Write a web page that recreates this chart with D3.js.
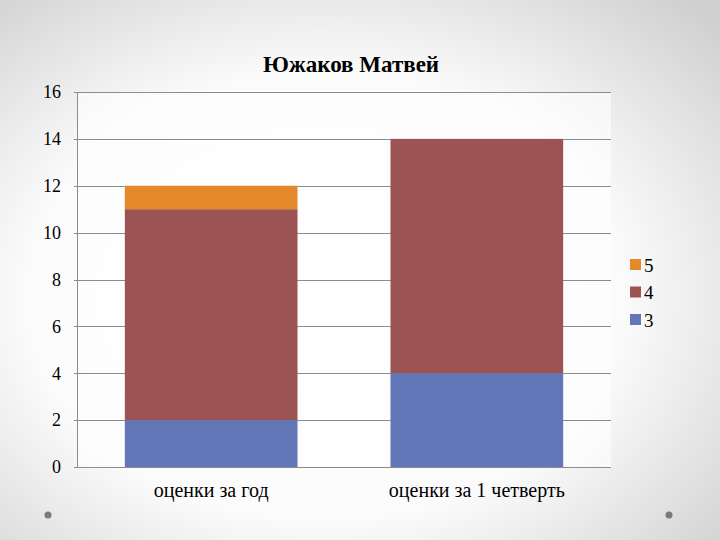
<!DOCTYPE html>
<html>
<head>
<meta charset="utf-8">
<script src="https://cdn.jsdelivr.net/npm/d3@7"></script>
</head>
<body style="margin:0">
<script>
var w = 720;
var h = 540;
var fontName = "'Liberation Serif', serif";

const chartTitle = "Южаков Матвей";
const categories = ["оценки за год", "оценки за 1 четверть"];
const seriesNames = ["3", "4", "5"];
const grade3 = [2, 4];
const grade4 = [9, 10];
const grade5 = [1, 0];
const seriesColors = ["#6277b7", "#9b5353", "#e5892a"];
const yTicks = [0, 2, 4, 6, 8, 10, 12, 14, 16];

var plot = {left: 77, right: 611, top: 92, bottom: 467};

var svg = d3.select("body").append("svg")
    .attr("width", w)
    .attr("height", h)
    .style("display", "block");

// slide background
var defs = svg.append("defs");
var grad = defs.append("radialGradient")
    .attr("id", "bg")
    .attr("cx", "45%").attr("cy", "55%").attr("r", "75%");
grad.append("stop").attr("offset", "0%").attr("stop-color", "#ffffff");
grad.append("stop").attr("offset", "55%").attr("stop-color", "#fbfbfb");
grad.append("stop").attr("offset", "100%").attr("stop-color", "#cfcfcf");

svg.append("rect")
    .attr("width", w).attr("height", h)
    .attr("fill", "url(#bg)");

svg.append("circle").attr("cx", 48).attr("cy", 515).attr("r", 3.5).attr("fill", "#7a7a7a");
svg.append("circle").attr("cx", 669).attr("cy", 515).attr("r", 3.5).attr("fill", "#7a7a7a");

// plot area background
svg.append("rect")
    .attr("x", plot.left).attr("y", plot.top)
    .attr("width", plot.right - plot.left)
    .attr("height", plot.bottom - plot.top)
    .attr("fill", "#ffffff")
    .attr("opacity", 0.6);

var x = d3.scaleBand()
    .domain(categories)
    .range([plot.left, plot.right])
    .paddingInner(0.35)
    .paddingOuter(0.18);

var y = d3.scaleLinear()
    .domain([0, 16])
    .range([plot.bottom, plot.top]);

// gridlines
svg.append("g")
    .selectAll("line")
    .data(yTicks)
    .enter()
    .append("line")
    .attr("x1", plot.left - 3)
    .attr("x2", plot.right)
    .attr("y1", function(d) { return Math.round(y(d)) + 0.5; })
    .attr("y2", function(d) { return Math.round(y(d)) + 0.5; })
    .attr("stroke", "#8c8c8c")
    .attr("stroke-width", 1);

// stacked bars
var rows = categories.map(function(c, i) {
  return {cat: c, "3": grade3[i], "4": grade4[i], "5": grade5[i]};
});
var stacked = d3.stack().keys(seriesNames)(rows);

svg.append("g")
    .selectAll("g")
    .data(stacked)
    .enter()
    .append("g")
    .attr("fill", function(d, i) { return seriesColors[i]; })
    .selectAll("rect")
    .data(function(d) { return d; })
    .enter()
    .append("rect")
    .attr("x", function(d) { return x(d.data.cat); })
    .attr("width", x.bandwidth())
    .attr("y", function(d) { return y(d[1]); })
    .attr("height", function(d) { return y(d[0]) - y(d[1]); });

// left axis line
svg.append("line")
    .attr("x1", plot.left + 0.5).attr("x2", plot.left + 0.5)
    .attr("y1", plot.top).attr("y2", plot.bottom)
    .attr("stroke", "#8c8c8c");

// y labels
svg.append("g")
    .selectAll("text")
    .data(yTicks)
    .enter()
    .append("text")
    .attr("x", 61)
    .attr("y", function(d) { return y(d); })
    .attr("dy", "0.35em")
    .attr("text-anchor", "end")
    .style("font-family", fontName)
    .attr("font-size", 18)
    .text(function(d) { return d; });

// x labels
svg.append("g")
    .selectAll("text")
    .data(categories)
    .enter()
    .append("text")
    .attr("x", function(d) { return x(d) + x.bandwidth() / 2; })
    .attr("y", 497)
    .attr("text-anchor", "middle")
    .style("font-family", fontName)
    .attr("font-size", 20)
    .text(function(d) { return d; });

// title
svg.append("text")
    .attr("x", 351)
    .attr("y", 72)
    .attr("text-anchor", "middle")
    .style("font-family", fontName)
    .attr("font-size", 23)
    .attr("font-weight", "bold")
    .text(chartTitle);

// legend, top item is last series
var legendNames = seriesNames.slice().reverse();
var legendColors = seriesColors.slice().reverse();
var legend = svg.append("g")
    .selectAll("g")
    .data(legendNames)
    .enter()
    .append("g")
    .attr("transform", function(d, i) { return "translate(630," + (265 + i * 27.5) + ")"; });

legend.append("rect")
    .attr("x", 0).attr("y", -6)
    .attr("width", 11).attr("height", 11)
    .attr("fill", function(d, i) { return legendColors[i]; });

legend.append("text")
    .attr("x", 14)
    .attr("y", 0)
    .attr("dy", "0.35em")
    .style("font-family", fontName)
    .attr("font-size", 19)
    .text(function(d) { return d; });
</script>
</body>
</html>
